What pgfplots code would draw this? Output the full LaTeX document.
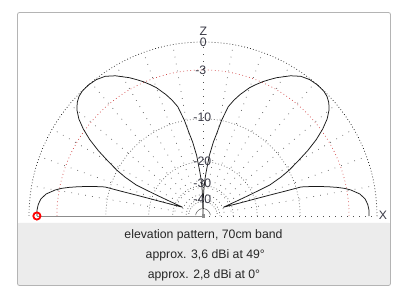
\documentclass[border=0pt]{standalone}
\usepackage{fontspec}
\setmainfont{Liberation Sans}
\usepackage{pgfplots}
\pgfplotsset{compat=1.18}
\usepackage{pgfplotstable}
\definecolor{frameborder}{HTML}{B4B4B4}
\definecolor{panel}{HTML}{ECECEC}
\definecolor{gridc}{HTML}{505050}
\definecolor{redgrid}{HTML}{D03A3A}
\definecolor{labc}{HTML}{3A3A46}
\definecolor{cursor}{HTML}{8C8C8C}
% elevation angle (deg), gain (dBi)
\pgfplotstableread{
a g
0 2.8
2 2.8
4 2.7
6 2.48
8 1.98
10 1.05
11 0.40
12 -0.45
13 -1.45
14 -2.52
15 -3.66
16 -4.88
16.5 -5.54
16.8 -8.3
17.3 -11.49
18 -15.53
19.1 -20.75
20.5 -25.36
23.2 -31.68
23.9 -22.86
24.3 -17.06
24.9 -11.17
26.5 -8.3
28 -6.35
30 -4.33
32 -2.28
34 -0.55
36 0.81
38 1.89
40 2.63
42 3.13
44 3.43
46 3.57
49 3.6
52 3.51
55 3.25
58 2.72
62 1.79
64 1.25
66 0.71
68 0.09
70 -0.55
73 -1.8
75 -2.77
77 -3.93
79 -6.35
80.7 -9.18
82 -10.88
84 -14.42
86 -20.19
87 -23.18
88 -27.85
89 -35.92
90 -100
91 -35.92
92 -27.85
93 -23.18
94 -20.19
96 -14.42
98 -10.88
99.3 -9.18
101 -6.35
103 -3.93
105 -2.77
107 -1.8
110 -0.55
112 0.09
114 0.71
116 1.25
118 1.79
122 2.72
125 3.25
128 3.51
131 3.6
134 3.57
136 3.43
138 3.13
140 2.63
142 1.89
144 0.81
146 -0.55
148 -2.28
150 -4.33
152 -6.35
153.5 -8.3
155.1 -11.17
155.7 -17.06
156.1 -22.86
156.8 -31.68
159.5 -25.36
160.9 -20.75
162 -15.53
162.7 -11.49
163.2 -8.3
163.5 -5.54
164 -4.88
165 -3.66
166 -2.52
167 -1.45
168 -0.45
169 0.40
170 1.05
172 1.98
174 2.48
176 2.7
178 2.8
180 2.8
}\patdata
\begin{document}
\begin{tikzpicture}
\begin{axis}[scale only axis, width=404bp, height=298bp,
  xmin=-203, xmax=201, ymin=-82, ymax=216, hide axis, clip=false]
% background, frame and bottom panel
\fill[white] (axis cs:-203,-82) rectangle (axis cs:201,216);
\fill[panel, rounded corners=2bp] (axis cs:-185.5,-69.5) rectangle (axis cs:187.5,-7);
\fill[panel] (axis cs:-185.5,-40) rectangle (axis cs:187.5,-7);
\draw[frameborder, line width=0.8bp, rounded corners=2bp] (axis cs:-185.5,-69.5) rectangle (axis cs:187.5,203.5);
% polar grid: radial lines every 10 degrees
\pgfplotsinvokeforeach{10,20,...,170}{
  \draw[gridc, line width=0.7bp, dash pattern=on 0.7bp off 6.3bp] (axis cs:0,0) -- (axis cs:{174*cos(#1)},{174*sin(#1)});
}
\draw[gridc, line width=0.7bp, dash pattern=on 0.7bp off 5.3bp] (axis cs:0,0) -- (axis cs:174,0);
% rings 0, -3 (red), -10, -20, -30, -40 dB (ARRL scale)
\pgfplotsinvokeforeach{97.16,54.26,30.30,16.92}{
  \draw[gridc, line width=0.7bp, dash pattern=on 0.7bp off 2.3bp] (axis cs:#1,0) arc[start angle=0, end angle=180, radius=#1];
}
\draw[redgrid, line width=0.7bp, dash pattern=on 0.7bp off 2.8bp] (axis cs:146.1,0) arc[start angle=0, end angle=180, radius=146.1];
\draw[black, line width=0.7bp, dash pattern=on 0.7bp off 2.3bp] (axis cs:174,0) arc[start angle=0, end angle=180, radius=174];
% pattern
\addplot[black!90, line width=0.75bp, line join=round] table[
  x expr={174*exp(0.0582669*(\thisrow{g}-3.6))*cos(\thisrow{a})},
  y expr={174*exp(0.0582669*(\thisrow{g}-3.6))*sin(\thisrow{a})}] {\patdata};
\addplot[cursor, line width=0.9bp] coordinates {(0,0) (-166.1,0)};
\addplot[only marks, mark=square*, mark size=1.3bp, cursor] coordinates {(0,0)};
\addplot[only marks, mark=o, mark size=3.6bp, red, line width=1.8bp, mark options={fill=white}] coordinates {(-166.1,0)};
% scale labels
\begin{scope}[every node/.style={inner sep=0pt, text=labc, font=\fontsize{12.3}{14}\selectfont}]
\node at (axis cs:0.3,184.5) {Z};
\node at (axis cs:0.3,173.5) {0};
\node at (axis cs:-2.2,146) {-3};
\node at (axis cs:-0.7,99) {-10};
\node at (axis cs:-0.7,55) {-20};
\node at (axis cs:-0.7,32.5) {-30};
\node at (axis cs:-0.7,17) {-40};
\node at (axis cs:180,0.7) {X};
\end{scope}
% caption
\begin{scope}[every node/.style={inner sep=0pt, anchor=base, text=black!85, font=\fontsize{12.3}{14}\selectfont}]
\node at (axis cs:0.5,-22.3) {elevation pattern, 70cm band};
\node at (axis cs:2.3,-42.3) {approx. 3,6 dBi at 49°};
\node at (axis cs:1,-62.3) {approx. 2,8 dBi at 0°};
\end{scope}
\end{axis}
\end{tikzpicture}
\end{document}
